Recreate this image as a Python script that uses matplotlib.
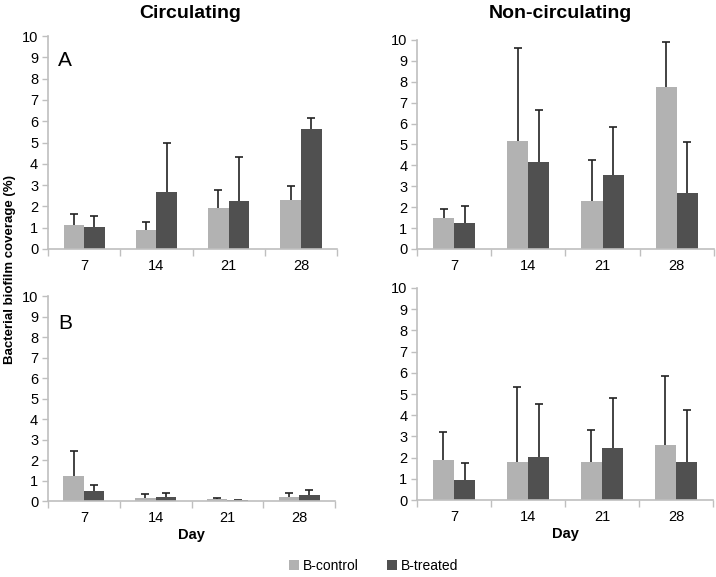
""" Biofilm coverage bars: circulating vs non-circulating, panels A and B. """

import numpy as np
import matplotlib
matplotlib.use("Agg")
import matplotlib.pyplot as plt

plt.rcParams['font.family'] = ['Liberation Sans', 'DejaVu Sans']

days = ['7', '14', '21', '28']

# panel A (top row)
a_circ_control = [1.12, 0.88, 1.92, 2.31]
a_circ_control_err = [0.50, 0.37, 0.85, 0.64]
a_circ_treated = [1.03, 2.66, 2.27, 5.64]
a_circ_treated_err = [0.53, 2.34, 2.07, 0.49]

a_noncirc_control = [1.46, 5.17, 2.31, 7.75]
a_noncirc_control_err = [0.44, 4.43, 1.93, 2.14]
a_noncirc_treated = [1.26, 4.16, 3.54, 2.69]
a_noncirc_treated_err = [0.78, 2.51, 2.29, 2.45]

# panel B (bottom row)
b_circ_control = [1.22, 0.16, 0.10, 0.18]
b_circ_control_err = [1.23, 0.20, 0.03, 0.21]
b_circ_treated = [0.50, 0.19, 0.05, 0.29]
b_circ_treated_err = [0.26, 0.22, 0.02, 0.25]

b_noncirc_control = [1.87, 1.80, 1.78, 2.60]
b_noncirc_control_err = [1.36, 3.51, 1.54, 3.23]
b_noncirc_treated = [0.96, 2.03, 2.47, 1.78]
b_noncirc_treated_err = [0.79, 2.49, 2.32, 2.46]

CONTROL_COLOR = '#b2b2b2'
TREATED_COLOR = '#505050'
AXIS_COLOR = '#bfbfbf'
BAR_W = 0.285


def upper_errorbar(ax, x, values, err):
    zeros = np.zeros(len(values))
    _, caps, _ = ax.errorbar(x, values, yerr=[zeros, err], fmt='none',
                             ecolor='#222222', elinewidth=1.2, capsize=3,
                             capthick=1.2, zorder=1)
    # only keep the cap at the top end
    caps[0].set_visible(False)


def draw_panel(ax, control, control_err, treated, treated_err, xlabel=None):
    x = np.arange(len(days))
    ax.bar(x - BAR_W / 2, control, BAR_W, color=CONTROL_COLOR, label='B-control', zorder=2)
    ax.bar(x + BAR_W / 2, treated, BAR_W, color=TREATED_COLOR, label='B-treated', zorder=2)
    upper_errorbar(ax, x - BAR_W / 2, control, control_err)
    upper_errorbar(ax, x + BAR_W / 2, treated, treated_err)

    ax.set_xlim(-0.5, len(days) - 0.5)
    ax.set_ylim(0, 10)
    ax.set_yticks(range(0, 11))
    ax.set_xticks(x)
    ax.set_xticklabels(days)
    ax.set_xticks(np.arange(-0.5, len(days), 1.0), minor=True)
    ax.tick_params(axis='x', which='major', length=0, labelsize=10.5, pad=7)
    ax.tick_params(axis='x', which='minor', length=5, color=AXIS_COLOR, width=1)
    ax.tick_params(axis='y', length=4, color=AXIS_COLOR, width=1, labelsize=10.5, pad=3)
    for side in ['top', 'right']:
        ax.spines[side].set_visible(False)
    for side in ['left', 'bottom']:
        ax.spines[side].set_color(AXIS_COLOR)
        ax.spines[side].set_linewidth(1.2)
    if xlabel:
        ax.set_xlabel(xlabel, fontsize=10.5, fontweight='bold', labelpad=2)


fig = plt.figure(figsize=(7.16, 5.77), dpi=100)
ax_a1 = fig.add_axes([0.067, 0.5685, 0.404, 0.369])
ax_a2 = fig.add_axes([0.5824, 0.5685, 0.4146, 0.3622])
ax_b1 = fig.add_axes([0.067, 0.1317, 0.401, 0.3553])
ax_b2 = fig.add_axes([0.5824, 0.1334, 0.4134, 0.3675])

draw_panel(ax_a1, a_circ_control, a_circ_control_err, a_circ_treated, a_circ_treated_err)
draw_panel(ax_a2, a_noncirc_control, a_noncirc_control_err, a_noncirc_treated, a_noncirc_treated_err)
draw_panel(ax_b1, b_circ_control, b_circ_control_err, b_circ_treated, b_circ_treated_err, xlabel='Day')
draw_panel(ax_b2, b_noncirc_control, b_noncirc_control_err, b_noncirc_treated, b_noncirc_treated_err, xlabel='Day')

ax_a1.text(0.035, 0.885, 'A', transform=ax_a1.transAxes, fontsize=15, va='center')
ax_b1.text(0.035, 0.865, 'B', transform=ax_b1.transAxes, fontsize=15, va='center')

fig.text(190 / 716, 1 - 13 / 577, 'Circulating', ha='center', va='center',
         fontsize=14, fontweight='bold')
fig.text(560 / 716, 1 - 13 / 577, 'Non-circulating', ha='center', va='center',
         fontsize=14, fontweight='bold')
fig.text(10 / 716, 1 - 270 / 577, 'Bacterial biofilm coverage (%)', rotation=90,
         ha='center', va='center', fontsize=9.5, fontweight='bold')

handles, labels = ax_a1.get_legend_handles_labels()
fig.legend(handles, labels, loc='center', bbox_to_anchor=(0.522, 1 - 566 / 577), ncol=2,
           frameon=False, fontsize=10, handlelength=0.7, handleheight=0.7,
           handletextpad=0.3, columnspacing=2.0)

fig.savefig('out.png', dpi=100)
